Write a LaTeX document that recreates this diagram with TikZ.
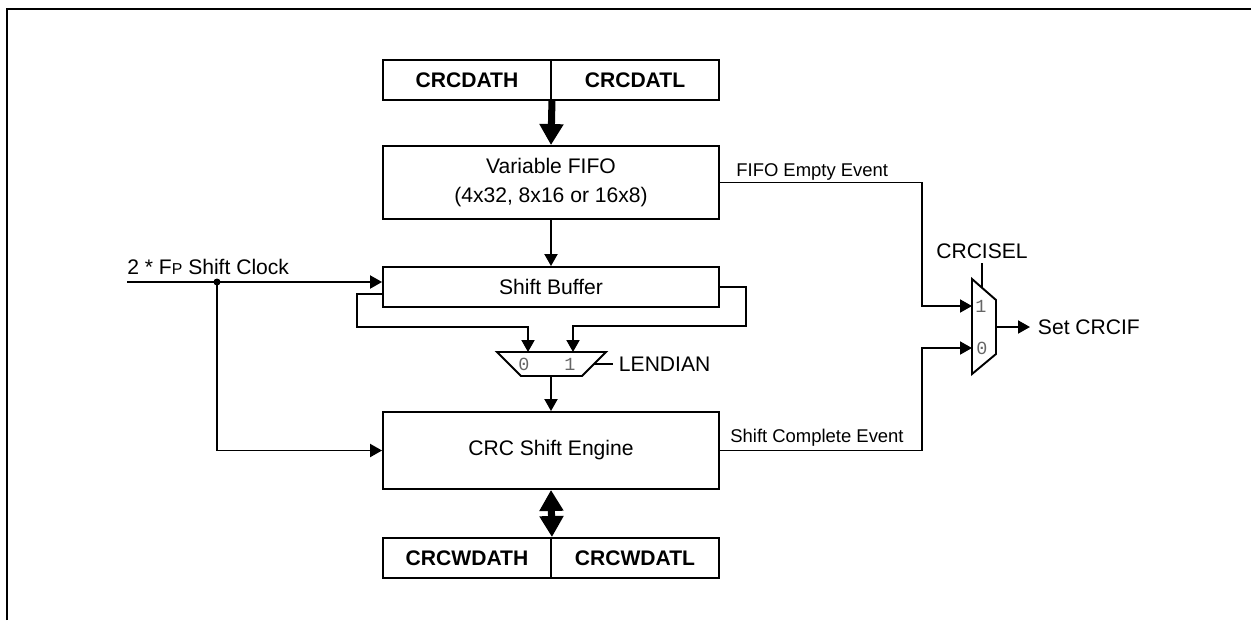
\documentclass[tikz,border=0pt]{standalone}
\usepackage{fontspec}
\setmainfont{Liberation Sans}
\newfontfamily\muxfont{Liberation Mono}
\usetikzlibrary{arrows.meta}
\usetikzlibrary{calc}
\tikzset{
	box/.style={draw, line width=1.1pt, minimum width=6.72cm, inner sep=0pt, align=center, font=\fontsize{12}{17}\selectfont},
	reg/.style={draw, line width=1.1pt, minimum width=3.36cm, minimum height=0.8cm, inner sep=0pt, font=\fontsize{12}{14}\selectfont\bfseries},
	wire/.style={line width=1.1pt},
	sig/.style={line width=1.1pt, -{Triangle[length=0.24cm,width=0.26cm]}},
	bus/.style={line width=4pt, -{Triangle[length=0.42cm,width=0.46cm]}},
	busboth/.style={line width=4pt, {Triangle[length=0.42cm,width=0.46cm]}-{Triangle[length=0.42cm,width=0.46cm]}},
	lbl/.style={inner sep=0pt, font=\fontsize{12}{14}\selectfont},
	evt/.style={inner sep=0pt, font=\fontsize{10.5}{12}\selectfont},
	pin/.style={inner sep=0pt, text=black!60, font=\muxfont\fontsize{10.5}{12}\selectfont}
}

\begin{document}
\begin{tikzpicture}[x=0.02cm, y=-0.02cm]
	% 1251 x 620 px, 1 px = 0.2 mm
	\useasboundingbox (0,0) rectangle (1251,620);
	\draw[wire] (7,620) -- (7,9) -- (1251,9);
	
	% registers and blocks
	\node[reg, anchor=center] (dath) at (467,80) {CRCDATH};
	\node[reg, anchor=center] (datl) at (635,80) {CRCDATL};
	\node[box, minimum height=1.46cm] (fifo) at (551,182.5) {Variable FIFO\\(4x32, 8x16 or 16x8)};
	\node[box, minimum height=0.8cm] (sbuf) at (551,287) {Shift Buffer};
	\node[box, minimum height=1.54cm] (eng) at (551,450.5) {CRC Shift Engine};
	\node[reg, anchor=center] (wdath) at (467,558) {CRCWDATH};
	\node[reg, anchor=center] (wdatl) at (635,558) {CRCWDATL};
	
	% endian mux
	\draw[wire] (497,352) -- (606,352) -- (582,376) -- (521,376) -- cycle;
	\coordinate (le0) at (528,352);
	\coordinate (le1) at (573,352);
	\coordinate (leout) at (551,376);
	\coordinate (lesel) at (594,364);
	\node[pin] (le0pin) at (524,364) {0};
	\node[pin] (le1pin) at (570,364) {1};
	
	% interrupt mux
	\draw[wire] (972,279) -- (996,300) -- (996,354) -- (972,374) -- cycle;
	\coordinate (ci1) at (972,306);
	\coordinate (ci0) at (972,348);
	\coordinate (ciout) at (996,327);
	\coordinate (cisel) at (982,288);
	\coordinate (ciseltop) at (982,263);
	\node[pin] (ci1pin) at (981,306) {1};
	\node[pin] (ci0pin) at (982,348) {0};
	
	% data path
	\draw[bus] (dath.south east) -- (fifo.north);
	\draw[sig] (fifo.south) -- (sbuf.north);
	\draw[sig] (sbuf.west |- 0,294) -- (357,294) |- (le0 |- 0,327) -- (le0);
	\draw[sig] (sbuf.east) -- (746,287) |- (le1 |- 0,326) -- (le1);
	\draw[sig] (leout) -- (eng.north);
	\draw[busboth] (eng.south) -- (wdath.north east);
	\draw[wire] (lesel) -- (613,364) node[lbl, anchor=west, xshift=0.1cm] (lendian) {LENDIAN};
	
	% shift clock
	\coordinate (clk) at (127,282);
	\coordinate (tap) at (217,282);
	\node[lbl, anchor=base west] (clklbl) at (127,274) {2 * F{\fontsize{9}{10}\selectfont P} Shift Clock};
	\draw[sig] (clk) -- (clk -| sbuf.west);
	\fill (tap) circle (0.07cm);
	\draw[sig] (tap) |- (eng.west);
	
	% events
	\draw[sig] (fifo.east) -- (fifo.east -| 922,0) |- (ci1);
	\node[evt, anchor=base west] (fifoevt) at (736,176) {FIFO Empty Event};
	\draw[sig] (eng.east) -- (eng.east -| 922,0) |- (ci0);
	\node[evt, anchor=base west] (engevt) at (730,442) {Shift Complete Event};
	\draw[wire] (cisel) -- (ciseltop);
	\node[lbl, anchor=base] (cisellbl) at (982,258) {CRCISEL};
	\draw[sig] (ciout) -- (1030,327) node[lbl, anchor=west, xshift=0.14cm] (setif) {Set CRCIF};
\end{tikzpicture}
\end{document}
